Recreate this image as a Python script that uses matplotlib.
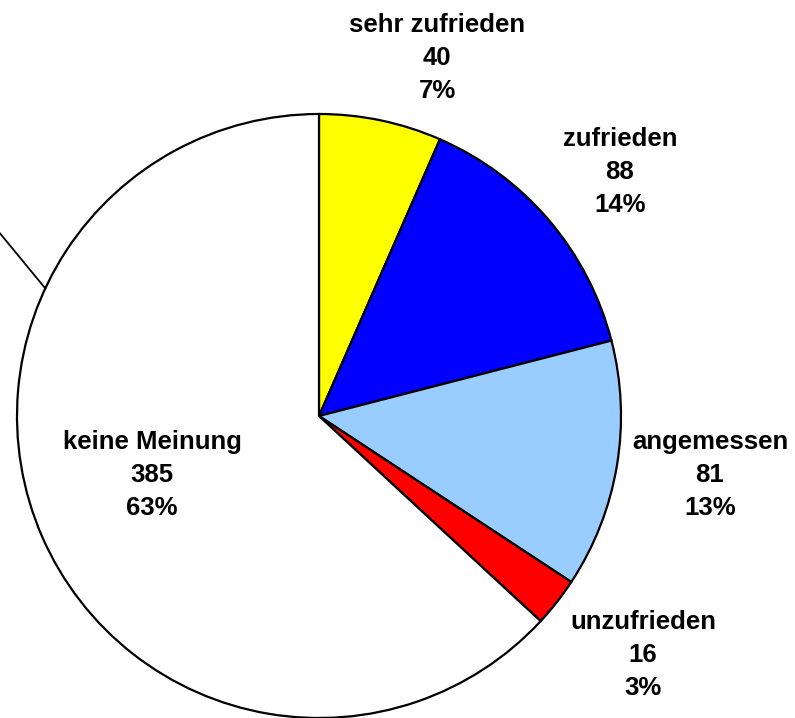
import numpy as np
import matplotlib
matplotlib.use('Agg')
import matplotlib.pyplot as plt

# Daten
kategorien = ['sehr zufrieden', 'zufrieden', 'angemessen', 'unzufrieden', 'keine Meinung']
anzahl = [40, 88, 81, 16, 385]
prozent = ['7%', '14%', '13%', '3%', '63%']
farben = ['#FFFF00', '#0000FF', '#99CCFF', '#FF0000', '#FFFFFF']

plt.rcParams['font.family'] = ['Liberation Sans', 'DejaVu Sans']

fig = plt.figure(figsize=(7.95, 7.18), dpi=100)
ax = fig.add_axes([0, 0, 1, 1])

cx, cy, r = 319, 302, 302   # Mittelpunkt und Radius in Pixeln
ax.pie(anzahl, colors=farben, startangle=90, counterclock=False,
       center=(cx, cy), radius=r, frame=True,
       wedgeprops=dict(edgecolor='black', linewidth=1.6))
ax.set_xlim(0, 795)
ax.set_ylim(0, 718)
ax.set_aspect('equal')
ax.axis('off')

# Beschriftungspositionen (Pixel, y nach unten)
label_pos = [(437, 58), (620, 172), (710, 475), (643, 655), (152, 475)]
for name, n, p, (lx, ly) in zip(kategorien, anzahl, prozent, label_pos):
    ax.text(lx, 718 - ly, f'{name}\n{n}\n{p}', ha='center', va='center',
            fontsize=18.5, fontweight='bold', linespacing=1.47)

# Führungslinie links
a = np.deg2rad(155)
x0, y0 = cx + r * np.cos(a), cy + r * np.sin(a)
ax.plot([x0, x0 - 70], [y0, y0 + 85], color='black', lw=1.3, clip_on=False)

fig.savefig('out.png', dpi=100, facecolor='white')
